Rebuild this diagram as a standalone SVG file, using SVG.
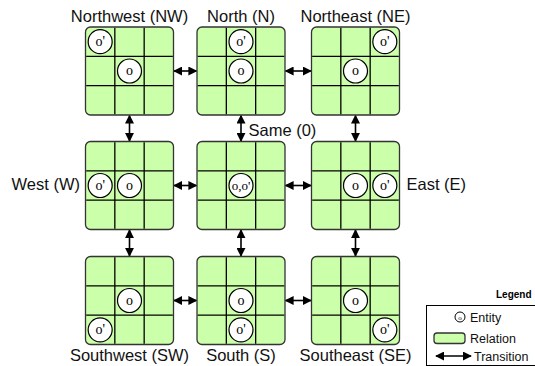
<svg xmlns="http://www.w3.org/2000/svg" xmlns:xlink="http://www.w3.org/1999/xlink" width="535" height="366" viewBox="0 0 535 366">
<style>
.box{fill:#ccffaa;stroke:#333;stroke-width:1.3}
.grid{stroke:#000;stroke-width:1.3;fill:none}
.ent{fill:#fff;stroke:#000;stroke-width:1.2}
.et{font-family:"Liberation Serif",serif;font-size:14px;text-anchor:middle}
.lbl{font-family:"Liberation Sans",Arial,sans-serif;font-size:16.5px;fill:#111}
.mid{text-anchor:middle}
.conn{stroke:#000;stroke-width:1.6;fill:none;marker-start:url(#ah);marker-end:url(#ah)}
.lg{font-family:"Liberation Sans",Arial,sans-serif;font-size:12.5px;fill:#111}
</style>
<defs>
<marker id="ah" viewBox="0 0 10 10" refX="9" refY="5" markerWidth="9" markerHeight="9" markerUnits="userSpaceOnUse" orient="auto-start-reverse">
<path d="M0,0 L10,5 L0,10 z" fill="#000"/>
</marker>
<g id="rel">
<rect class="box" x="0" y="0" width="88" height="88" rx="5"/>
<path class="grid" d="M29.33,0.7V87.3M58.67,0.7V87.3M0.7,29.33H87.3M0.7,58.67H87.3"/>
</g>
</defs>
<rect width="535" height="366" fill="#fff"/>
<g id="connectors">
<line class="conn" x1="174" y1="71" x2="196.5" y2="71"/>
<line class="conn" x1="285.5" y1="71" x2="311" y2="71"/>
<line class="conn" x1="174" y1="185.5" x2="196.5" y2="185.5"/>
<line class="conn" x1="285.5" y1="185.5" x2="311" y2="185.5"/>
<line class="conn" x1="174" y1="300.5" x2="196.5" y2="300.5"/>
<line class="conn" x1="285.5" y1="300.5" x2="311" y2="300.5"/>
<line class="conn" x1="129.5" y1="115.5" x2="129.5" y2="141"/>
<line class="conn" x1="241" y1="115.5" x2="241" y2="141"/>
<line class="conn" x1="355.5" y1="115.5" x2="355.5" y2="141"/>
<line class="conn" x1="129.5" y1="230" x2="129.5" y2="256"/>
<line class="conn" x1="241" y1="230" x2="241" y2="256"/>
<line class="conn" x1="355.5" y1="230" x2="355.5" y2="256"/>
</g>
<g id="nw">
<g transform="translate(85.5,27)"><use xlink:href="#rel"/>
<circle class="ent" cx="14.67" cy="14.67" r="12"/><text class="et" x="14.67" y="18.5">o'</text>
<circle class="ent" cx="44" cy="44" r="12"/><text class="et" x="44" y="48">o</text></g>
<text class="lbl mid" x="129.5" y="22">Northwest (NW)</text>
</g>
<g id="n">
<g transform="translate(197,27)"><use xlink:href="#rel"/>
<circle class="ent" cx="44" cy="14.67" r="12"/><text class="et" x="44" y="18.5">o'</text>
<circle class="ent" cx="44" cy="44" r="12"/><text class="et" x="44" y="48">o</text></g>
<text class="lbl mid" x="241" y="22">North (N)</text>
</g>
<g id="ne">
<g transform="translate(311.5,27)"><use xlink:href="#rel"/>
<circle class="ent" cx="73.33" cy="14.67" r="12"/><text class="et" x="73.33" y="18.5">o'</text>
<circle class="ent" cx="44" cy="44" r="12"/><text class="et" x="44" y="48">o</text></g>
<text class="lbl mid" x="355.5" y="22">Northeast (NE)</text>
</g>
<g id="w">
<g transform="translate(85.5,141.5)"><use xlink:href="#rel"/>
<circle class="ent" cx="14.67" cy="44" r="12"/><text class="et" x="14.67" y="48">o'</text>
<circle class="ent" cx="44" cy="44" r="12"/><text class="et" x="44" y="48">o</text></g>
<text class="lbl" x="80" y="190" text-anchor="end">West (W)</text>
</g>
<g id="same">
<g transform="translate(197,141.5)"><use xlink:href="#rel"/>
<circle class="ent" cx="44" cy="44" r="12"/><text class="et" x="44" y="48" style="font-size:13px">o,o'</text></g>
<text class="lbl" x="248.5" y="136">Same (0)</text>
</g>
<g id="e">
<g transform="translate(311.5,141.5)"><use xlink:href="#rel"/>
<circle class="ent" cx="44" cy="44" r="12"/><text class="et" x="44" y="48">o</text>
<circle class="ent" cx="73.33" cy="44" r="12"/><text class="et" x="73.33" y="48">o'</text></g>
<text class="lbl" x="406.5" y="190">East (E)</text>
</g>
<g id="sw">
<g transform="translate(85.5,256.5)"><use xlink:href="#rel"/>
<circle class="ent" cx="44" cy="44" r="12"/><text class="et" x="44" y="48">o</text>
<circle class="ent" cx="14.67" cy="73.33" r="12"/><text class="et" x="14.67" y="77.5">o'</text></g>
<text class="lbl mid" x="129.5" y="361">Southwest (SW)</text>
</g>
<g id="s">
<g transform="translate(197,256.5)"><use xlink:href="#rel"/>
<circle class="ent" cx="44" cy="44" r="12"/><text class="et" x="44" y="48">o</text>
<circle class="ent" cx="44" cy="73.33" r="12"/><text class="et" x="44" y="77.5">o'</text></g>
<text class="lbl mid" x="241" y="361">South (S)</text>
</g>
<g id="se">
<g transform="translate(311.5,256.5)"><use xlink:href="#rel"/>
<circle class="ent" cx="44" cy="44" r="12"/><text class="et" x="44" y="48">o</text>
<circle class="ent" cx="73.33" cy="73.33" r="12"/><text class="et" x="73.33" y="77.5">o'</text></g>
<text class="lbl mid" x="355.5" y="361">Southeast (SE)</text>
</g>
<g id="legend">
<text x="496" y="298" style="font-family:'Liberation Sans',Arial,sans-serif;font-size:10px;font-weight:bold">Legend</text>
<rect x="426.5" y="305.5" width="120" height="60" fill="#fff" stroke="#000" stroke-width="1"/>
<circle cx="460" cy="317" r="5" fill="#fff" stroke="#000" stroke-width="1"/>
<text x="460" y="319.5" style="font-family:'Liberation Serif',serif;font-size:7px;text-anchor:middle">o</text>
<text class="lg" x="470" y="321.5">Entity</text>
<rect x="434" y="333" width="31" height="10.5" rx="3" class="box"/>
<text class="lg" x="470" y="342.5">Relation</text>
<line x1="436" y1="356" x2="471" y2="356" stroke="#000" stroke-width="1.6" marker-start="url(#ah)" marker-end="url(#ah)"/>
<text class="lg" x="474" y="360.5">Transition</text>
</g>
</svg>
